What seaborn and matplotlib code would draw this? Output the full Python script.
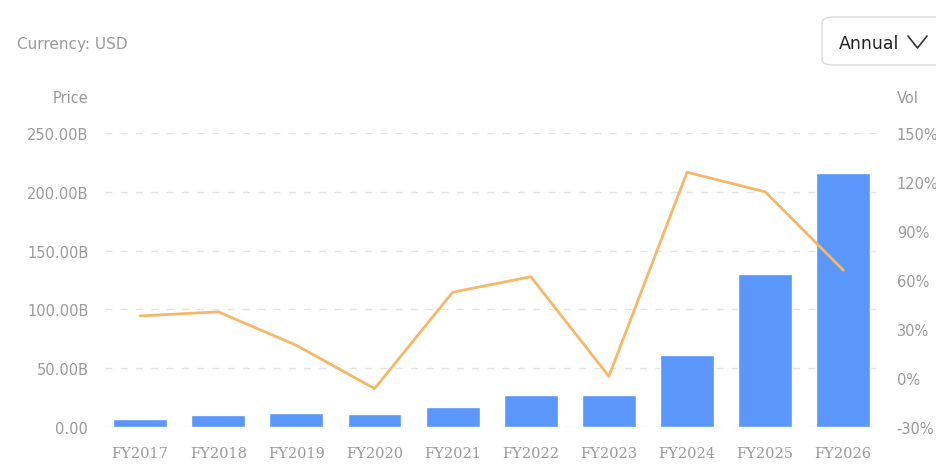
import pandas as pd
import matplotlib.pyplot as plt
import seaborn as sns
import numpy as np
from matplotlib.patches import FancyBboxPatch
from matplotlib.lines import Line2D

years = ["FY2017", "FY2018", "FY2019", "FY2020", "FY2021",
         "FY2022", "FY2023", "FY2024", "FY2025", "FY2026"]
price = [6.8, 10.2, 11.9, 11.0, 17.0, 27.2, 27.2, 61.2, 130.0, 216.0]
vol = [38, 40.5, 20, -6.5, 52.5, 62, 1, 126, 114, 66]

left_ticks = [0, 50, 100, 150, 200, 250]
left_labels = ["0.00", "50.00B", "100.00B", "150.00B", "200.00B", "250.00B"]
right_ticks = [-30, 0, 30, 60, 90, 120, 150]
right_labels = ["-30%", "0%", "30%", "60%", "90%", "120%", "150%"]

df = pd.DataFrame({"year": years, "price": price, "vol": vol})

sns.set_style("white")
plt.rcParams['font.family'] = ['DejaVu Sans']

grey = "#9a9a9a"
fig = plt.figure(figsize=(9.36, 4.77), dpi=100)
ax = fig.add_axes([105/936, 49/477, 775/936, 294/477])

sns.barplot(data=df, x="year", y="price", color="#5b96fb", saturation=1,
            width=0.69, ax=ax, zorder=2)
ax.set_xlim(-0.45, 9.47)
ax.set_ylim(0, 250)
ax.set_yticks(left_ticks)
ax.set_yticklabels(left_labels, color=grey, fontsize=10.5)
ax.yaxis.grid(True, linestyle=(0, (5, 6)), color="#e3e3e3", linewidth=1)
ax.set_axisbelow(True)
ax.set_xlabel("")
ax.set_ylabel("")
ax.tick_params(axis="y", length=0, pad=12)
ax.tick_params(axis="x", length=0, pad=14)
for lbl in ax.get_xticklabels():
    lbl.set_family("DejaVu Serif")
    lbl.set_color(grey)
    lbl.set_fontsize(10.5)
for s in ax.spines.values():
    s.set_visible(False)

ax2 = ax.twinx()
sns.lineplot(x=np.arange(len(years)), y=vol, color="#f5b868", linewidth=2,
             ax=ax2, zorder=3)
ax2.set_ylim(-30, 150)
ax2.set_yticks(right_ticks)
ax2.set_yticklabels(right_labels, color=grey, fontsize=10.5)
ax2.tick_params(axis="y", length=0, pad=12)
ax2.set_ylabel("")
for s in ax2.spines.values():
    s.set_visible(False)

fig.text(17/936, 1 - 44/477, "Currency: USD", color=grey, fontsize=11, va="center")
fig.text(88/936, 1 - 99/477, "Price", color=grey, fontsize=10.5, va="center", ha="right")
fig.text(897/936, 1 - 99/477, "Vol", color=grey, fontsize=10.5, va="center", ha="left")

box = FancyBboxPatch((822/936, 1 - 66/477), 130/936, 48/477,
                     boxstyle="round,pad=0,rounding_size=0.012",
                     transform=fig.transFigure, facecolor="white",
                     edgecolor="#dcdcdc", linewidth=1)
fig.patches.append(box)
fig.text(839/936, 1 - 44/477, "Annual", color="#222222", fontsize=12.5, va="center")
chev = Line2D([908/936, 917.5/936, 927/936], [1 - 37/477, 1 - 49/477, 1 - 37/477],
              transform=fig.transFigure, color="#333333", linewidth=1.2)
fig.lines.append(chev)

fig.savefig("out.png", dpi=100)
